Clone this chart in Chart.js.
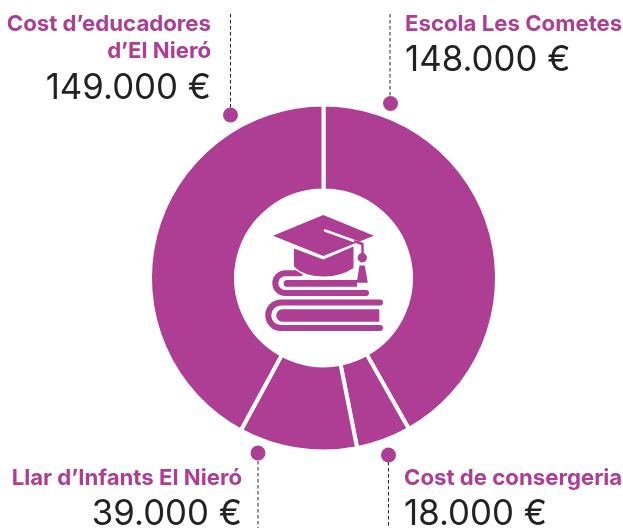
<!DOCTYPE html>
<html><head><meta charset="utf-8">
<script src="https://cdn.jsdelivr.net/npm/chart.js@4"></script>
<style>html,body{margin:0;padding:0;background:#fff}canvas{display:block}</style>
</head><body><div style="width:623px;height:528px;position:relative"><canvas id="c" width="623" height="528"></canvas></div>
<script>
const categories = ["Escola Les Cometes","Cost de consergeria","Llar d’Infants El Nieró","Cost d’educadores d’El Nieró"];
const values = [148000,18000,39000,149000];
const valueLabels = ["148.000 €","18.000 €","39.000 €","149.000 €"];
const PURPLE="#ae3d94", DARK="#222222";
const FONT="Inter";

function drawIcon(ctx){
  ctx.save();
  ctx.fillStyle=PURPLE;ctx.strokeStyle=PURPLE;ctx.lineCap="round";ctx.lineJoin="round";
  // upper book
  ctx.lineWidth=6;
  ctx.beginPath();ctx.moveTo(300,273.3);ctx.lineTo(285.2,273.3);ctx.arc(285.2,283.2,9.9,-Math.PI/2,Math.PI/2,true);ctx.lineTo(366,293.1);ctx.stroke();
  ctx.beginPath();ctx.moveTo(357,280);ctx.lineTo(287,280);ctx.arc(287,283.4,3.35,-Math.PI/2,Math.PI/2,true);ctx.lineTo(357,286.7);ctx.closePath();ctx.fill();
  // lower book
  ctx.beginPath();ctx.moveTo(380,302.5);ctx.lineTo(281,302.5);ctx.arc(281,315.25,12.75,-Math.PI/2,Math.PI/2,true);ctx.lineTo(380,328);ctx.stroke();
  ctx.beginPath();ctx.moveTo(379.3,309.3);ctx.lineTo(282.5,309.3);ctx.arc(282.5,315.5,6.2,-Math.PI/2,Math.PI/2,true);ctx.lineTo(379.3,321.7);ctx.closePath();ctx.fill();
  // cap body
  ctx.beginPath();ctx.moveTo(294,248.5);ctx.lineTo(323.3,259.5);ctx.lineTo(353.5,246.5);ctx.lineTo(353.5,268);ctx.quadraticCurveTo(340,277,323,276.5);ctx.quadraticCurveTo(303,276,294,266.5);ctx.closePath();
  ctx.lineWidth=3;ctx.strokeStyle="#fff";ctx.stroke();
  ctx.fillStyle=PURPLE;ctx.fill();
  // board
  ctx.beginPath();ctx.moveTo(323.3,215);ctx.lineTo(374,235.7);ctx.lineTo(323.3,256);ctx.lineTo(273,235.7);ctx.closePath();ctx.fill();
  // tassel cord
  ctx.strokeStyle="#fff";ctx.lineWidth=2.4;ctx.lineCap="round";
  ctx.beginPath();ctx.moveTo(325,230.5);ctx.lineTo(357,242);ctx.stroke();
  ctx.strokeStyle=PURPLE;ctx.lineWidth=2.4;
  ctx.beginPath();ctx.moveTo(355,241.5);ctx.lineTo(362.5,244);ctx.lineTo(362.5,254);ctx.stroke();
  ctx.beginPath();ctx.arc(362.3,257.7,4.7,0,Math.PI*2);ctx.fill();
  ctx.beginPath();ctx.moveTo(359.5,265.5);ctx.lineTo(364.8,265.5);ctx.lineTo(367.8,282.7);ctx.lineTo(356.7,282.7);ctx.closePath();ctx.fill();
  ctx.restore();
}

const annotations={
  id:"annotations",
  afterDraw(chart){
    const ctx=chart.ctx;
    drawIcon(ctx);
    ctx.save();
    const leaders=[[230.5,14,108,230.5,115],[390,14,97,390.5,103.5],[258,461,528,258,453],[388.5,462,528,388.5,455]];
    for(const [x,y0,y1,dx,dy] of leaders){
      ctx.strokeStyle="#222";ctx.lineWidth=1;ctx.setLineDash([3.5,2.5]);
      ctx.beginPath();ctx.moveTo(x,y0);ctx.lineTo(x,y1);ctx.stroke();
      ctx.setLineDash([]);
      ctx.fillStyle=PURPLE;ctx.beginPath();ctx.arc(dx,dy,7.5,0,Math.PI*2);ctx.fill();
    }
    const T=(s,x,y,al,bold)=>{
      ctx.textAlign=al;ctx.textBaseline="alphabetic";
      ctx.fillStyle=bold?PURPLE:DARK;
      ctx.font=bold?`700 22.2px ${FONT}`:`400 34.8px ${FONT}`;
      ctx.fillText(s,x,y);
    };
    T("Cost d’educadores",211,31,"right",true);
    T("d’El Nieró",211,58,"right",true);
    T(valueLabels[3],211,99,"right",false);
    T(categories[0],405,31,"left",true);
    T(valueLabels[0],405,71,"left",false);
    T(categories[2],242,485,"right",true);
    T(valueLabels[2],242,525,"right",false);
    T(categories[1],404,485,"left",true);
    T(valueLabels[1],404,525,"left",false);
    ctx.restore();
  }
};

new Chart(document.getElementById("c"),{
  type:"doughnut",
  data:{labels:categories,datasets:[{data:values,backgroundColor:PURPLE,borderColor:"#fff",borderWidth:4,hoverOffset:0}]},
  options:{
    responsive:false,animation:false,
    radius:173.5,cutout:"50.4%",
    layout:{padding:{left:24,top:28,right:0,bottom:0}},
    plugins:{legend:{display:false},tooltip:{enabled:false}}
  },
  plugins:[annotations]
});
</script></body></html>
